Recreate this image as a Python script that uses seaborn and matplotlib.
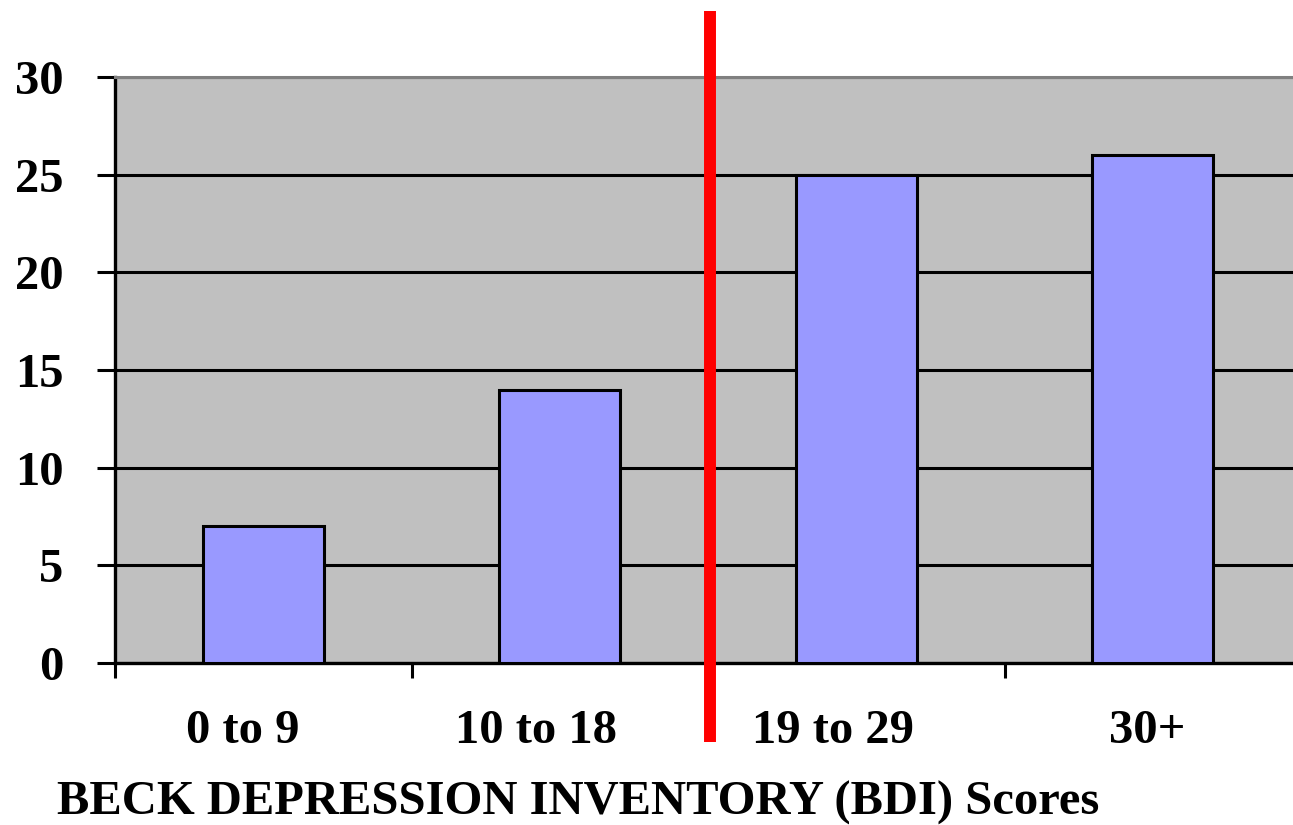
import matplotlib
matplotlib.use("Agg")
import matplotlib.pyplot as plt
import matplotlib.transforms as mtransforms
import seaborn as sns
import pandas as pd

# BDI score bands and number of participants in each
categories = ["0 to 9", "10 to 18", "19 to 29", "30+"]
counts = [7, 14, 25, 26]
y_ticks = [0, 5, 10, 15, 20, 25, 30]
x_title = "BECK DEPRESSION INVENTORY (BDI) Scores"
# clinical cut-off sits between the 2nd and 3rd bands
cutoff_between = (1, 2)

sns.set_theme(style="white")
plt.rcParams["font.family"] = ["Liberation Serif", "DejaVu Serif"]
plt.rcParams["font.weight"] = "bold"
plt.rcParams["text.color"] = "black"
plt.rcParams["axes.labelcolor"] = "black"
plt.rcParams["xtick.color"] = "black"
plt.rcParams["ytick.color"] = "black"

df = pd.DataFrame({"band": categories, "count": counts})

fig = plt.figure(figsize=(12.93, 8.25), dpi=100)
ax = fig.add_axes([115 / 1293, 162 / 825, 1186 / 1293, 586 / 825])
ax.set_facecolor("#C0C0C0")

sns.barplot(data=df, x="band", y="count", color="#9999FF", saturation=1,
            edgecolor="black", linewidth=2.2, width=0.407, ax=ax, zorder=3)

ax.set_xlim(-0.5, len(categories) - 0.5)
ax.set_ylim(0, 30)
ax.set_yticks(y_ticks)
ax.set_yticklabels([str(v) for v in y_ticks], fontsize=35, fontweight="bold")
ax.yaxis.grid(True, color="black", linewidth=2.2, zorder=1)
ax.set_axisbelow(True)

# category boundaries carry the tick marks, names sit in between
ax.set_xticks([i - 0.5 for i in range(len(categories) + 1)])
ax.set_xticklabels([])
ax.set_xticks(range(len(categories)), minor=True)
ax.set_xticklabels(categories, minor=True, fontsize=35, fontweight="bold")
ax.tick_params(axis="x", which="major", direction="out", length=11, width=2.2,
               color="black", bottom=True)
ax.tick_params(axis="x", which="minor", length=0, pad=33)
ax.tick_params(axis="y", direction="out", length=13, width=2.2, color="black",
               left=True, pad=24)

# nudge the band names slightly left of the bar centres
label_shift_px = [-20, -24, -23, -6]
for lbl, dx in zip(ax.get_xticklabels(minor=True), label_shift_px):
    lbl.set_transform(lbl.get_transform()
                      + mtransforms.ScaledTranslation(dx / 100, 0, fig.dpi_scale_trans))

for side in ["left", "bottom"]:
    ax.spines[side].set_color("black")
    ax.spines[side].set_linewidth(2.4)
ax.spines["top"].set_color("#808080")
ax.spines["top"].set_linewidth(2.2)
ax.spines["right"].set_visible(False)

ax.set_xlabel(x_title, fontsize=35, fontweight="bold", ha="left")
ax.xaxis.set_label_coords(-0.049, -0.201)
ax.set_ylabel("")

# red cut-off divider, extending beyond the plot frame
cut_x = sum(cutoff_between) / 2 + 0.008
ax.plot([cut_x, cut_x], [-4.05, 33.4], color="#FF0000", linewidth=8.6,
        solid_capstyle="butt", clip_on=False, zorder=5)

fig.savefig("out.png", dpi=100)
